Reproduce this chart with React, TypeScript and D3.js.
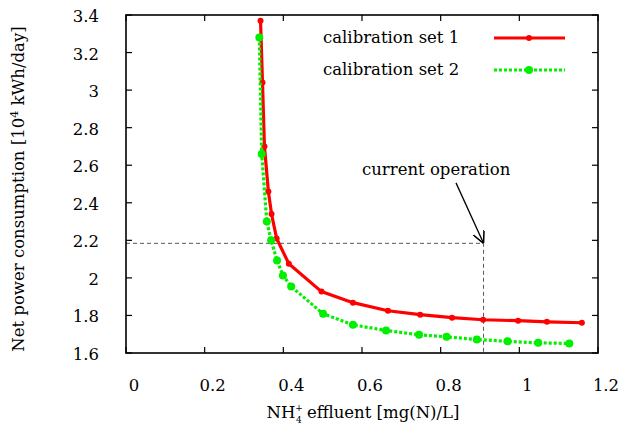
import React, { useRef, useEffect } from "react";
import * as d3 from "d3";

// calibration set 1 (red, solid)
const set1X = [0.342, 0.347, 0.352, 0.362, 0.37, 0.383, 0.414, 0.497, 0.577, 0.666, 0.748, 0.829, 0.908, 0.997, 1.07, 1.159];
const set1Y = [3.37, 3.04, 2.7, 2.46, 2.34, 2.21, 2.075, 1.927, 1.868, 1.825, 1.804, 1.788, 1.777, 1.772, 1.766, 1.761];

// calibration set 2 (green, dashed)
const set2X = [0.339, 0.345, 0.358, 0.369, 0.384, 0.399, 0.42, 0.501, 0.577, 0.661, 0.745, 0.815, 0.892, 0.97, 1.048, 1.127];
const set2Y = [3.28, 2.66, 2.3, 2.2, 2.093, 2.013, 1.954, 1.809, 1.75, 1.72, 1.697, 1.686, 1.672, 1.662, 1.654, 1.651];

const xTicks = [0, 0.2, 0.4, 0.6, 0.8, 1, 1.2];
const yTicks = [1.6, 1.8, 2, 2.2, 2.4, 2.6, 2.8, 3, 3.2, 3.4];

const currentOp = { x: 0.909, y: 2.184 };
const arrowStart = { x: 0.839, y: 2.506 };
const seriesNames = ["calibration set 1", "calibration set 2"];

const FONT = "'DejaVu Serif', serif";
const FS = 16.5;

const App = () => {
  const ref = useRef<HTMLDivElement>(null);

  useEffect(() => {
    const W = 621;
    const H = 441;
    const left = 126, right = 598, top = 15, bottom = 353;

    d3.select(ref.current).select("svg").remove();
    const svg = d3
      .select(ref.current)
      .append("svg")
      .attr("width", W)
      .attr("height", H)
      .style("position", "absolute")
      .style("left", "0px")
      .style("top", "0px")
      .style("background", "white");

    const x = d3.scaleLinear().domain([0, 1.2]).range([left, right]);
    const y = d3.scaleLinear().domain([1.6, 3.4]).range([bottom, top]);

    svg
      .append("defs")
      .append("marker")
      .attr("id", "arrow")
      .attr("viewBox", "0 0 10 10")
      .attr("refX", 10)
      .attr("refY", 5)
      .attr("markerWidth", 12)
      .attr("markerHeight", 12)
      .attr("markerUnits", "userSpaceOnUse")
      .attr("orient", "auto")
      .append("path")
      .attr("d", "M0,0 L10,5 L0,10")
      .attr("fill", "none")
      .attr("stroke", "black")
      .attr("stroke-width", 1.3);

    // ticks (inside, mirrored)
    const tl = 6;
    const g = svg.append("g").attr("stroke", "black").attr("stroke-width", 1.2);
    xTicks.forEach((t) => {
      g.append("line").attr("x1", x(t)).attr("x2", x(t)).attr("y1", bottom).attr("y2", bottom - tl);
      g.append("line").attr("x1", x(t)).attr("x2", x(t)).attr("y1", top).attr("y2", top + tl);
    });
    yTicks.forEach((t) => {
      g.append("line").attr("x1", left).attr("x2", left + tl).attr("y1", y(t)).attr("y2", y(t));
      g.append("line").attr("x1", right).attr("x2", right - tl).attr("y1", y(t)).attr("y2", y(t));
    });

    svg
      .selectAll(".xl")
      .data(xTicks)
      .enter()
      .append("text")
      .attr("x", (d) => x(d) + 8)
      .attr("y", 391)
      .attr("text-anchor", "middle")
      .attr("font-family", FONT)
      .attr("font-size", FS)
      .text((d) => d3.format("")(d));

    svg
      .selectAll(".yl")
      .data(yTicks)
      .enter()
      .append("text")
      .attr("x", 99)
      .attr("y", (d) => y(d) + 7)
      .attr("text-anchor", "end")
      .attr("font-family", FONT)
      .attr("font-size", FS)
      .text((d) => d3.format("")(d));

    // reference lines
    svg
      .append("path")
      .attr("d", `M${left},${y(currentOp.y)} H${x(currentOp.x)} V${bottom}`)
      .attr("fill", "none")
      .attr("stroke", "#444")
      .attr("stroke-width", 0.9)
      .attr("stroke-dasharray", "4,3");

    svg
      .append("line")
      .attr("x1", x(arrowStart.x))
      .attr("y1", y(arrowStart.y))
      .attr("x2", x(currentOp.x))
      .attr("y2", y(currentOp.y))
      .attr("stroke", "black")
      .attr("stroke-width", 1.3)
      .attr("marker-end", "url(#arrow)");

    svg
      .append("text")
      .attr("x", 362)
      .attr("y", 175)
      .attr("font-family", FONT)
      .attr("font-size", FS)
      .text("current operation");

    const line = d3
      .line<number>()
      .x((d) => x(d[0]))
      .y((d) => y(d[1]));

    const s1 = set1X.map((v, i) => [v, set1Y[i]]);
    const s2 = set2X.map((v, i) => [v, set2Y[i]]);

    svg
      .append("path")
      .datum(s1)
      .attr("d", line as any)
      .attr("fill", "none")
      .attr("stroke", "#ff0000")
      .attr("stroke-width", 3.2);
    svg
      .selectAll(".p1")
      .data(s1)
      .enter()
      .append("circle")
      .attr("cx", (d) => x(d[0]))
      .attr("cy", (d) => y(d[1]))
      .attr("r", 3)
      .attr("fill", "#ff0000");

    svg
      .append("path")
      .datum(s2)
      .attr("d", line as any)
      .attr("fill", "none")
      .attr("stroke", "#00f000")
      .attr("stroke-width", 3.2)
      .attr("stroke-dasharray", "3,2");
    svg
      .selectAll(".p2")
      .data(s2)
      .enter()
      .append("circle")
      .attr("cx", (d) => x(d[0]))
      .attr("cy", (d) => y(d[1]))
      .attr("r", 4)
      .attr("fill", "#00f000");

    // legend
    const legY = [38, 70];
    const colors = ["#ff0000", "#00f000"];
    seriesNames.forEach((name, i) => {
      svg
        .append("text")
        .attr("x", 323)
        .attr("y", legY[i] + 5)
        .attr("font-family", FONT)
        .attr("font-size", FS)
        .text(name);
      svg
        .append("line")
        .attr("x1", 494)
        .attr("x2", 565)
        .attr("y1", legY[i])
        .attr("y2", legY[i])
        .attr("stroke", colors[i])
        .attr("stroke-width", 3.2)
        .attr("stroke-dasharray", i === 1 ? "3,2" : null);
      svg
        .append("circle")
        .attr("cx", 529)
        .attr("cy", legY[i])
        .attr("r", i === 1 ? 4 : 3)
        .attr("fill", colors[i]);
    });

    // frame
    svg
      .append("rect")
      .attr("x", left)
      .attr("y", top)
      .attr("width", right - left)
      .attr("height", bottom - top)
      .attr("fill", "none")
      .attr("stroke", "black")
      .attr("stroke-width", 1.6);

    // axis titles
    const xt = svg
      .append("text")
      .attr("x", 363)
      .attr("y", 418)
      .attr("text-anchor", "middle")
      .attr("font-family", FONT)
      .attr("font-size", FS);
    xt.append("tspan").text("NH");
    xt.append("tspan").attr("font-size", 9).attr("dy", -7).text("+");
    xt.append("tspan").attr("font-size", 9).attr("dx", -7).attr("dy", 12).text("4");
    xt.append("tspan").attr("dy", -5).text(" effluent [mg(N)/L]");

    const yt = svg
      .append("text")
      .attr("transform", `translate(24,${(top + bottom) / 2 + 5}) rotate(-90)`)
      .attr("text-anchor", "middle")
      .attr("font-family", FONT)
      .attr("font-size", FS);
    yt.append("tspan").text("Net power consumption [10");
    yt.append("tspan").attr("font-size", 11).attr("dy", -6).text("4");
    yt.append("tspan").attr("dy", 6).text(" kWh/day]");
  }, []);

  return <div ref={ref}></div>;
};

export default App;
